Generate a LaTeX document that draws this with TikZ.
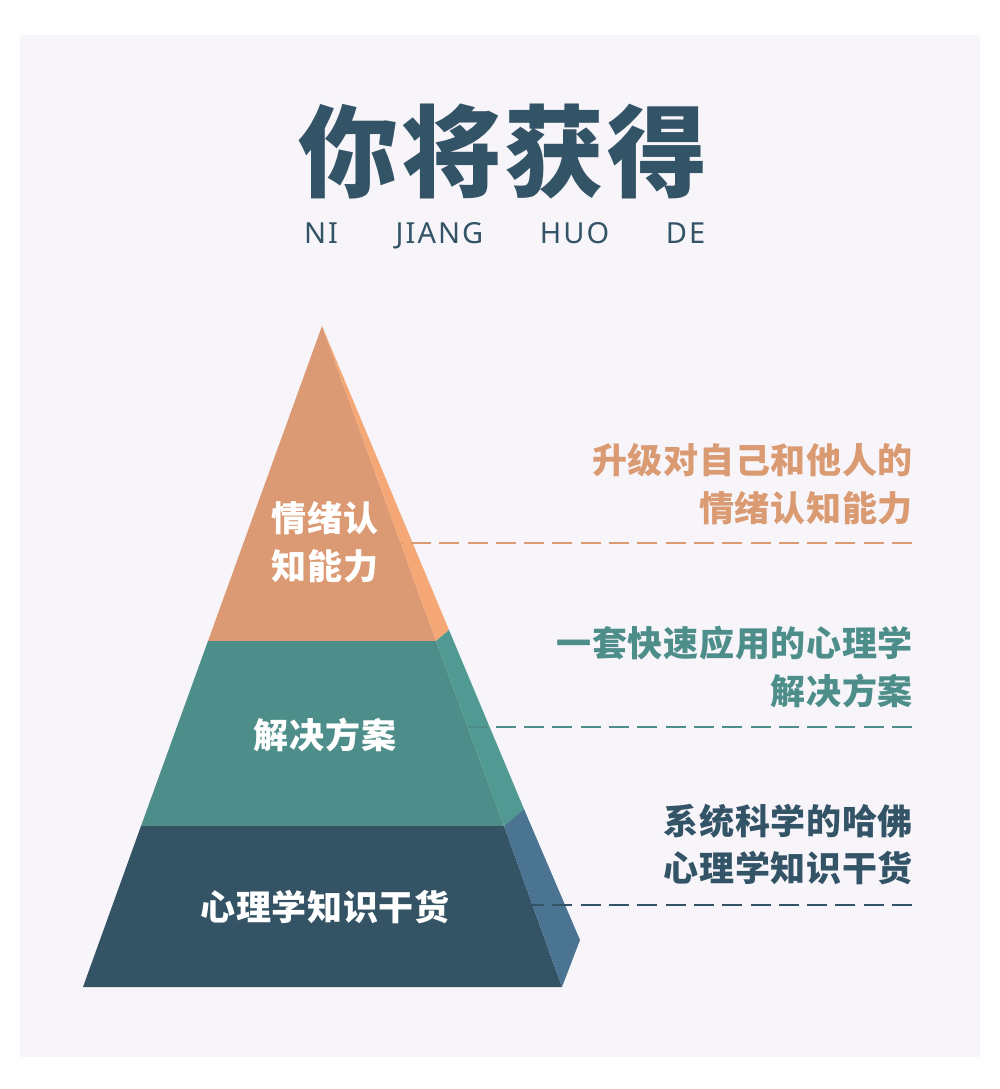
\documentclass[tikz,border=0pt]{standalone}
\usepackage{fontspec}
\newfontfamily\cjk{Noto Sans CJK SC}[LetterSpace=2]
\newfontfamily\cjktitle{Noto Sans CJK SC}[LetterSpace=3]
\newfontfamily\latinsub{Noto Sans}[LetterSpace=7]
\definecolor{panelbg}{HTML}{F7F5F9}
\definecolor{orfront}{HTML}{DB9A73}
\definecolor{orside}{HTML}{F5A775}
\definecolor{tefront}{HTML}{4E8E8A}
\definecolor{teside}{HTML}{519A93}
\definecolor{dkfront}{HTML}{345466}
\definecolor{dkside}{HTML}{4A7491}
\definecolor{ortext}{HTML}{DA9A72}
\definecolor{tetext}{HTML}{4E8E8A}
\definecolor{dktext}{HTML}{335366}
\tikzset{
  lbl/.style={inner sep=0pt, font=\cjk\bfseries\fontsize{35}{42}\selectfont},
  pyrlbl/.style={lbl, text=white, anchor=center},
  desc/.style={lbl, anchor=east},
  sub/.style={inner sep=0pt, anchor=base, text=dktext, font=\latinsub\fontsize{29}{34}\selectfont},
  guide/.style={line width=1.6pt, dash pattern=on 20pt off 8.3pt}
}
\begin{document}
\begin{tikzpicture}[x=1pt,y=-1pt]
\useasboundingbox (0,0) rectangle (1000,1089);
\fill[white] (0,0) rectangle (1000,1089);
\fill[panelbg] (20,35) rectangle (980,1057);
% title
\node[inner sep=0pt, text=dktext, font=\cjktitle\bfseries\fontsize{100}{110}\selectfont] (title) at (503,152) {你将获得};
\node[sub] (s1) at (321,243) {NI};
\node[sub] (s2) at (439.5,243) {JIANG};
\node[sub] (s3) at (574.5,243) {HUO};
\node[sub] (s4) at (685.5,243) {DE};
% pyramid geometry
\coordinate (apex) at (322,326);
\coordinate (l1) at (208,641);
\coordinate (r1) at (436,641);
\coordinate (s1p) at (449,630);
\coordinate (l2) at (141,826);
\coordinate (r2) at (504,826);
\coordinate (s2p) at (524,809);
\coordinate (l3) at (83,987);
\coordinate (r3) at (562,987);
\coordinate (s3p) at (580,940);
% top layer
\fill[orfront] (apex) -- (l1) -- (r1) -- cycle;
\fill[orside] (apex) -- (r1) -- (s1p) -- cycle;
% middle layer
\fill[tefront] (l1) -- (r1) -- (r2) -- (l2) -- cycle;
\fill[teside] (r1) -- (s1p) -- (s2p) -- (r2) -- cycle;
% bottom layer
\fill[dkfront] (l2) -- (r2) -- (r3) -- (l3) -- cycle;
\fill[dkside] (r2) -- (s2p) -- (s3p) -- (r3) -- cycle;
% guide lines
\coordinate (g1a) at (912,543);
\coordinate (g1b) at (401,543);
\coordinate (g2a) at (912,727);
\coordinate (g2b) at (468,727);
\coordinate (g3a) at (912,905);
\coordinate (g3b) at (532,905);
\draw[guide, ortext] (g1a) -- (g1b);
\draw[guide, tetext] (g2a) -- (g2b);
\draw[guide, dktext] (g3a) -- (g3b);
% pyramid labels
\node[pyrlbl] (p1a) at (325,518) {情绪认};
\node[pyrlbl] (p1b) at (325,566) {知能力};
\node[pyrlbl] (p2) at (325,735) {解决方案};
\node[pyrlbl] (p3) at (325,907) {心理学知识干货};
% descriptions
\node[desc, text=ortext] (d1a) at (913,460) {升级对自己和他人的};
\node[desc, text=ortext] (d1b) at (913,508) {情绪认知能力};
\node[desc, text=tetext] (d2a) at (913,643) {一套快速应用的心理学};
\node[desc, text=tetext] (d2b) at (913,691) {解决方案};
\node[desc, text=dktext] (d3a) at (913,821) {系统科学的哈佛};
\node[desc, text=dktext] (d3b) at (913,868) {心理学知识干货};
\end{tikzpicture}
\end{document}
